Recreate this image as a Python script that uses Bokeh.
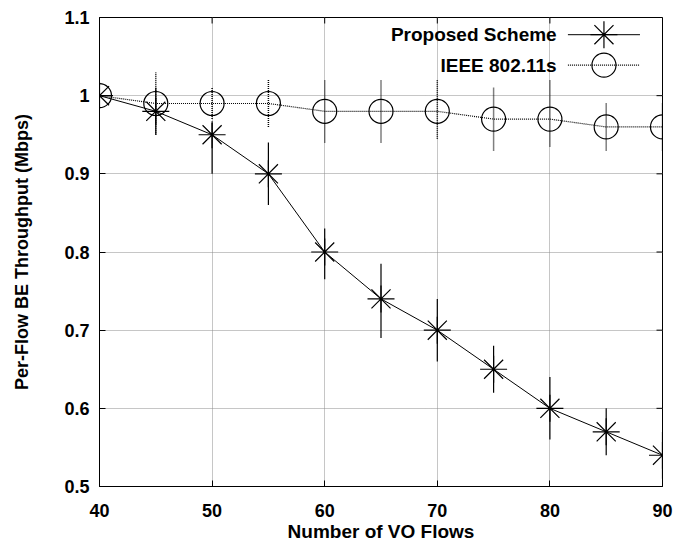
from bokeh.plotting import figure
from bokeh.models import Range1d, FixedTicker, Label
from bokeh.embed import file_html
from bokeh.resources import INLINE

# ---- data ----
vo_flows = [40, 45, 50, 55, 60, 65, 70, 75, 80, 85, 90]
proposed = [1.00, 0.98, 0.95, 0.90, 0.80, 0.74, 0.70, 0.65, 0.60, 0.57, 0.54]
proposed_low = [1.00, 0.95, 0.90, 0.86, 0.765, 0.69, 0.66, 0.62, 0.56, 0.54, 0.51]
proposed_high = [1.00, 1.01, 0.965, 0.94, 0.83, 0.785, 0.74, 0.68, 0.64, 0.60, 0.57]
ieee = [1.00, 0.99, 0.99, 0.99, 0.98, 0.98, 0.98, 0.97, 0.97, 0.96, 0.96]
ieee_low = [1.00, 0.95, 0.97, 0.96, 0.94, 0.94, 0.945, 0.93, 0.935, 0.93, 0.93]
ieee_high = [1.00, 1.03, 1.01, 1.02, 1.02, 1.02, 1.02, 1.01, 1.02, 0.99, 0.99]
x_ticks = [40, 50, 60, 70, 80, 90]
y_ticks = [0.5, 0.6, 0.7, 0.8, 0.9, 1.0, 1.1]
y_tick_labels = ["0.5", "0.6", "0.7", "0.8", "0.9", "1", "1.1"]
series_names = ["Proposed Scheme", "IEEE 802.11s"]

FONT = "Liberation Sans"
FS_TICK = "18px"
FS_XLAB = "19px"
FS_YLAB = "18px"
FS_LEG = "19px"

X0, X1, Y0, Y1 = 40, 90, 0.5, 1.1
W, H = 675, 546
BL, BR, BT, BB = 99, 13, 17, 60

p = figure(width=W, height=H, output_backend="svg", toolbar_location=None,
           x_range=Range1d(X0, X1), y_range=Range1d(Y0, Y1),
           min_border_left=BL, min_border_right=BR, min_border_top=BT, min_border_bottom=BB)
p.background_fill_color = "white"
p.border_fill_color = "white"
p.outline_line_color = "black"
p.outline_line_width = 1

# axes
p.xaxis.ticker = FixedTicker(ticks=x_ticks)
p.yaxis.ticker = FixedTicker(ticks=y_ticks)
p.yaxis.major_label_overrides = {t: l for t, l in zip(y_ticks, y_tick_labels)}
for ax in (p.xaxis[0], p.yaxis[0]):
    ax.major_tick_in = 6
    ax.major_tick_out = 0
    ax.minor_tick_line_color = None
    ax.axis_line_color = "black"
    ax.major_tick_line_color = "black"
    ax.major_label_text_font = FONT
    ax.major_label_text_font_style = "bold"
    ax.major_label_text_font_size = FS_TICK
    ax.major_label_text_color = "black"
    ax.axis_label_text_font = FONT
    ax.axis_label_text_font_style = "bold"
    ax.axis_label_text_color = "black"
p.xaxis.axis_label = "Number of VO Flows"
p.yaxis.axis_label = "Per-Flow BE Throughput (Mbps)"
p.xaxis.axis_label_text_font_size = FS_XLAB
p.yaxis.axis_label_text_font_size = FS_YLAB
p.xaxis.major_label_standoff = 17
p.xaxis.axis_label_standoff = 1
p.yaxis.major_label_standoff = 10
p.yaxis.axis_label_standoff = 29

# grid
p.xgrid.ticker = FixedTicker(ticks=x_ticks)
p.ygrid.ticker = FixedTicker(ticks=y_ticks)
for g in (p.xgrid[0], p.ygrid[0]):
    g.grid_line_color = "#8c8c8c"
    g.grid_line_dash = "1 1"
    g.grid_line_width = 1

# mirror ticks on top and right (6 px inward)
tick_px = 6
dx = tick_px * (X1 - X0) / (W - BL - BR)
dy = tick_px * (Y1 - Y0) / (H - BT - BB)
p.segment(x0=x_ticks, y0=[Y1] * len(x_ticks), x1=x_ticks, y1=[Y1 - dy] * len(x_ticks),
          line_color="black", line_width=1)
p.segment(x0=[X1] * len(y_ticks), y0=y_ticks, x1=[X1 - dx] * len(y_ticks), y1=y_ticks,
          line_color="black", line_width=1)

# error bars
p.segment(x0=vo_flows, y0=ieee_low, x1=vo_flows, y1=ieee_high,
          line_color="black", line_width=1.5, line_dash="1 1")
p.segment(x0=vo_flows, y0=proposed_low, x1=vo_flows, y1=proposed_high,
          line_color="black", line_width=1.2)

# lines
p.line(vo_flows, ieee, line_color="black", line_width=1.2, line_dash="1 1")
p.line(vo_flows, proposed, line_color="black", line_width=1)

# markers
p.scatter(vo_flows, ieee, marker="circle", size=24, fill_color=None,
          line_color="black", line_width=1.2)
p.scatter(vo_flows, proposed, marker="asterisk", size=27,
          line_color="black", line_width=1.2)

# legend (text right-aligned, sample on the right, like gnuplot)
leg_text_x = 80.6
leg_x0, leg_x1, leg_xm = 81.6, 88.0, 84.8
leg_y = [1.078, 1.039]
for i, name in enumerate(series_names):
    p.add_layout(Label(x=leg_text_x, y=leg_y[i], text=name, text_align="right",
                       text_baseline="middle", text_font=FONT, text_font_style="bold",
                       text_font_size=FS_LEG, text_color="black"))
p.line([leg_x0, leg_x1], [leg_y[0], leg_y[0]], line_color="black", line_width=1)
p.scatter([leg_xm], [leg_y[0]], marker="asterisk", size=27, line_color="black", line_width=1.2)
p.line([leg_x0, leg_x1], [leg_y[1], leg_y[1]], line_color="black", line_width=1.2, line_dash="1 1")
p.scatter([leg_xm], [leg_y[1]], marker="circle", size=24, fill_color=None,
          line_color="black", line_width=1.2)

open("out.html", "w").write(file_html(p, INLINE))
